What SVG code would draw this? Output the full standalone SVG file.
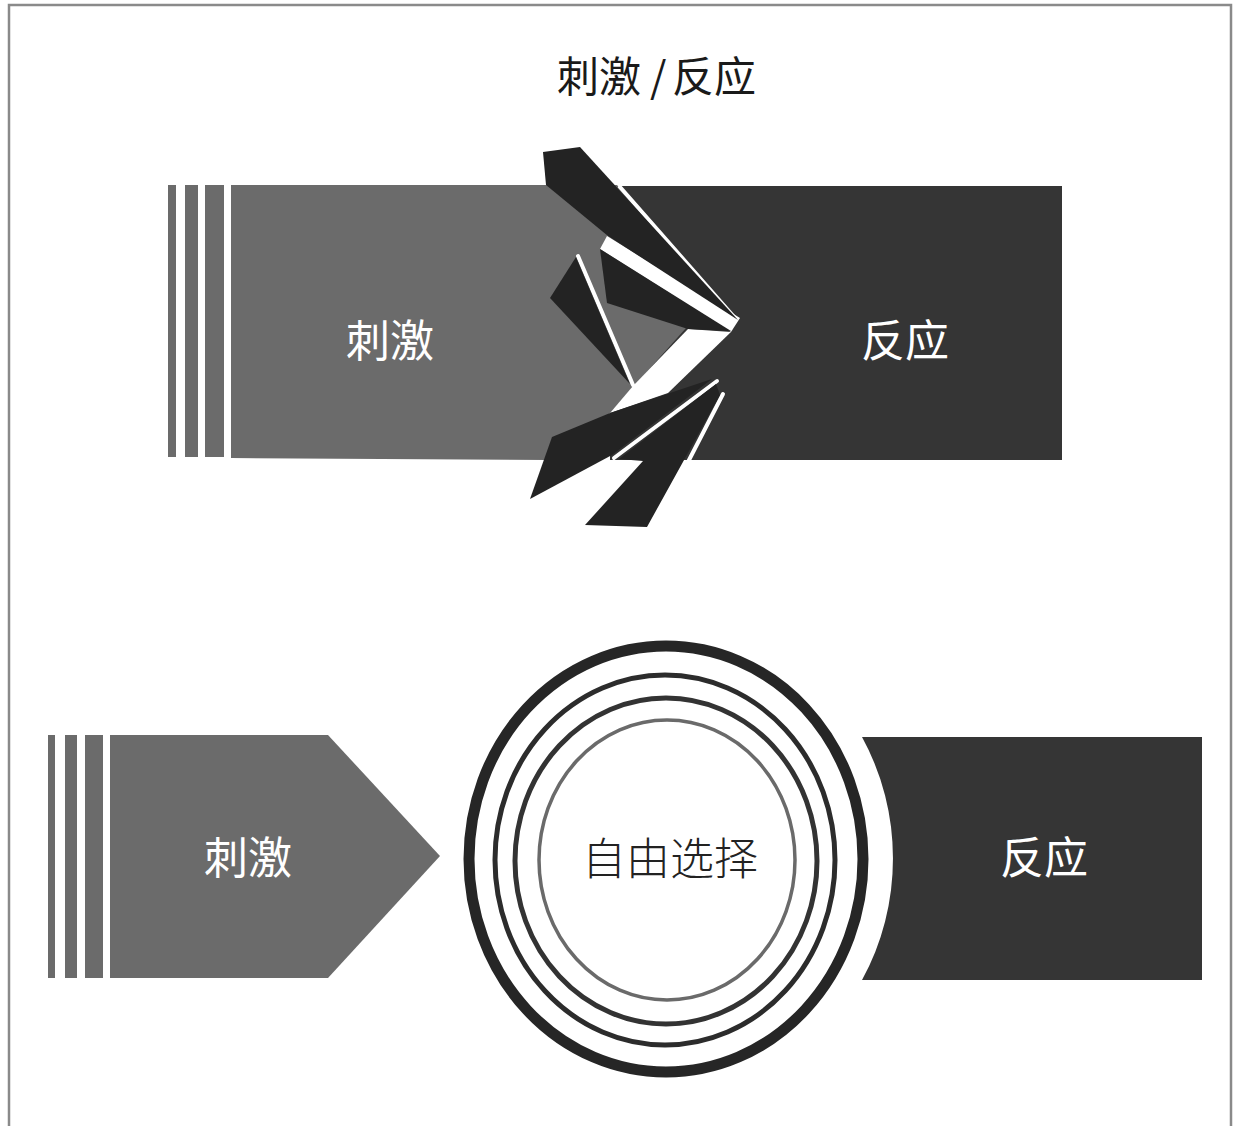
<svg xmlns="http://www.w3.org/2000/svg" width="1233" height="1126" viewBox="0 0 1233 1126">
  <style>
    .frame { fill: none; stroke: #8a8a8a; stroke-width: 2.5; }
    .mid { fill: #6b6b6b; }
    .dark { fill: #353535; }
    .shard { fill: #232323; }
    .crack { fill: #ffffff; }
    .sliver { stroke: #ffffff; stroke-width: 4; fill: none; stroke-linecap: round; }
    .label { font-family: "Noto Sans CJK SC", "Noto Sans", sans-serif; font-size: 44px; text-anchor: middle; }
    .on-dark { fill: #ffffff; }
    .title { font-family: "Noto Sans CJK SC", "Noto Sans", sans-serif; font-size: 42px; fill: #1a1a1a; }
    .ring { fill: none; }
  </style>
  <rect width="1233" height="1126" fill="#ffffff"/>

  <!-- page frame (open at the bottom) -->
  <path class="frame" d="M9,1126 L9,5 L1231,5 L1231,1126"/>

  <!-- title -->
  <g id="title">
    <text class="title" x="557" y="92">刺激</text>
    <text class="title" x="650" y="92">/</text>
    <text class="title" x="672" y="92">反应</text>
  </g>

  <!-- upper diagram: stimulus shattering into response -->
  <g id="top-response">
    <rect class="dark" x="610" y="186" width="452" height="274"/>
    <text class="label on-dark" x="905" y="357">反应</text>
  </g>

  <g id="top-stimulus">
    <rect class="mid" x="168" y="185" width="8" height="272"/>
    <rect class="mid" x="185" y="185" width="13" height="272"/>
    <rect class="mid" x="205" y="185" width="19" height="272"/>
    <polygon class="mid" points="231,185 617,185 738,320 686,328 610,413 548,460 231,458"/>
    <text class="label on-dark" x="390" y="357">刺激</text>
  </g>

  <g id="shards">
    <!-- white cracks -->
    <polygon class="crack" points="607,236 740,318 731,332 600,249"/>
    <polygon class="crack" points="688,329 731,332 668,393 610,413 633,386"/>
    <line class="sliver" x1="620" y1="187" x2="735" y2="318"/>
    <line class="sliver" x1="578" y1="256" x2="633" y2="385"/>
    <line class="sliver" x1="614" y1="458" x2="717" y2="381"/>
    <line class="sliver" x1="723" y1="394" x2="688" y2="462"/>
    <!-- dark fragments -->
    <polygon class="shard" points="543,152 580,147 738,320 608,236 546,185"/>
    <polygon class="shard" points="600,249 731,331 688,329 607,303"/>
    <polygon class="shard" points="550,298 576,257 630,384"/>
    <polygon class="shard" points="530,499 552,437 610,413 712,379 612,455"/>
    <polygon class="shard" points="619,459 716,384 720,395 647,527 585,525 643,461"/>
  </g>

  <!-- lower diagram: stimulus, freedom to choose, response -->
  <g id="bottom-stimulus">
    <rect class="mid" x="48" y="735" width="7" height="243"/>
    <rect class="mid" x="65" y="735" width="12" height="243"/>
    <rect class="mid" x="85" y="735" width="18" height="243"/>
    <polygon class="mid" points="110,735 328,735 440,856 328,978 110,978"/>
    <text class="label on-dark" x="248" y="874">刺激</text>
  </g>

  <g id="choice">
    <ellipse class="ring" cx="666" cy="859" rx="197" ry="213" stroke="#262626" stroke-width="11"/>
    <ellipse class="ring" cx="665" cy="860" rx="170" ry="185" stroke="#2c2c2c" stroke-width="5"/>
    <ellipse class="ring" cx="666" cy="861" rx="151" ry="163" stroke="#333333" stroke-width="5"/>
    <ellipse class="ring" cx="667" cy="860" rx="128" ry="140" stroke="#6a6a6a" stroke-width="3.5"/>
    <text class="label" x="670" y="875" fill="#222222" font-weight="300">自由选择</text>
  </g>

  <g id="bottom-response">
    <path class="dark" d="M862,737 L1202,737 L1202,980 L862,980 A227,241 0 0 0 862,737 Z"/>
    <text class="label on-dark" x="1044" y="874">反应</text>
  </g>
</svg>
